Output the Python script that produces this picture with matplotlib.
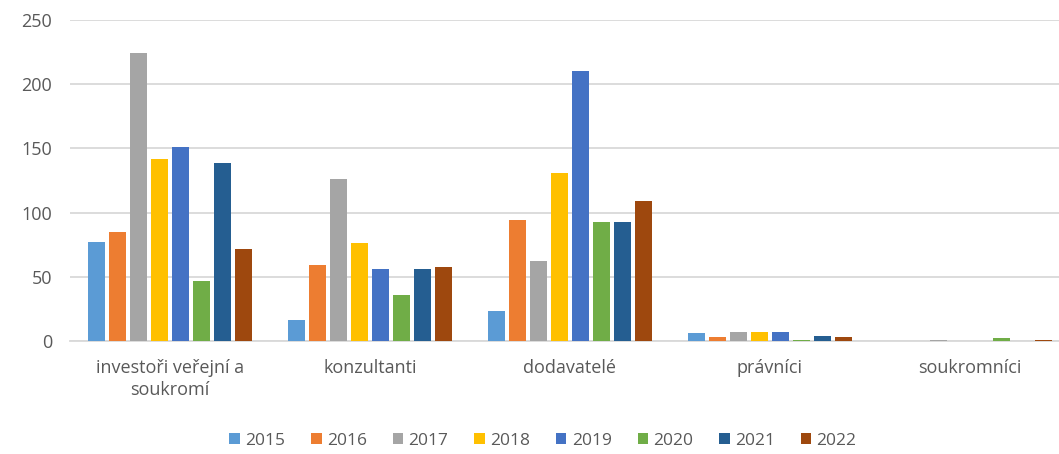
import numpy as np
import matplotlib
matplotlib.use("Agg")
import matplotlib.pyplot as plt

# ---------------- DATA ----------------
categories = ["investoři veřejní a\nsoukromí", "konzultanti", "dodavatelé", "právníci", "soukromníci"]
years = ["2015", "2016", "2017", "2018", "2019", "2020", "2021", "2022"]

v2015 = [77, 16, 23, 6, 0]
v2016 = [85, 59, 94, 3, 0]
v2017 = [224, 126, 62, 7, 1]
v2018 = [142, 76, 131, 7, 0]
v2019 = [151, 56, 210, 7, 0]
v2020 = [47, 36, 93, 1, 2]
v2021 = [139, 56, 93, 4, 0]
v2022 = [72, 58, 109, 3, 1]
series = [v2015, v2016, v2017, v2018, v2019, v2020, v2021, v2022]

colors = ["#5B9BD5", "#ED7D31", "#A5A5A5", "#FFC000",
          "#4472C4", "#70AD47", "#255E91", "#9E480E"]

# ---------------- PLOT ----------------
plt.rcParams["font.family"] = ["Open Sans", "DejaVu Sans"]
text_col = "#595959"

fig = plt.figure(figsize=(10.59, 4.54), dpi=100)
# axes run a bit past the right edge, like the cropped original
ax = fig.add_axes([70 / 1059, 1 - 341 / 454, 1000 / 1059, 321 / 454])

x = np.arange(len(categories))
slot = 0.105
bar_w = 0.083
for i, (yr, vals) in enumerate(zip(years, series)):
    offs = (i - 3.5) * slot
    ax.bar(x + offs, vals, width=bar_w, color=colors[i], label=yr, zorder=3)

ax.set_xlim(-0.5, len(categories) - 0.5)
ax.set_ylim(0, 250)
ax.set_yticks([0, 50, 100, 150, 200, 250])
ax.set_xticks(x)
ax.set_xticklabels(categories, color=text_col, fontsize=13, linespacing=1.25)
ax.tick_params(axis="y", colors=text_col, labelsize=13, length=0, pad=13)
ax.tick_params(axis="x", length=0, pad=13)

ax.grid(axis="y", color="#D9D9D9", linewidth=1.3, zorder=0)
for s in ["top", "right", "left"]:
    ax.spines[s].set_visible(False)
ax.spines["bottom"].set_color("#D9D9D9")
ax.spines["bottom"].set_linewidth(1.3)

fig.legend(loc="center", bbox_to_anchor=(543 / 1059, 1 - 441 / 454), ncol=8,
           frameon=False, fontsize=12.5, handlelength=0.6, handleheight=0.6,
           handletextpad=0.3, columnspacing=1.5, labelcolor=text_col)

fig.savefig("out.png", dpi=100)
